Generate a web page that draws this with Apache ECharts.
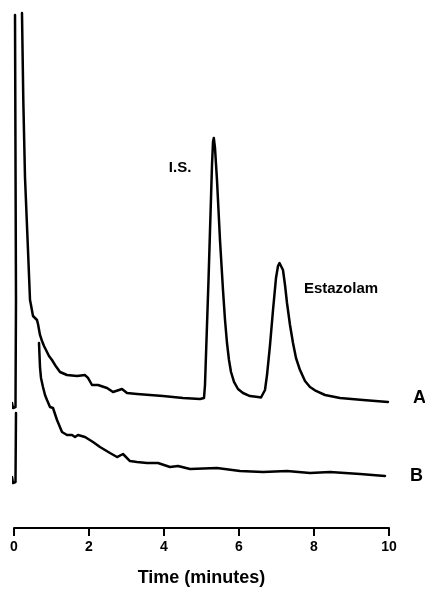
<!DOCTYPE html>
<html>
<head>
<meta charset="utf-8">
<script src="https://cdn.jsdelivr.net/npm/echarts@6/dist/echarts.min.js"></script>
<style>
html,body{margin:0;padding:0;background:#fff;}
#chart{width:425px;height:593px;}
</style>
</head>
<body>
<div id="chart"></div>
<script>
// Time axis ticks (minutes)
var xTicks = [0, 2, 4, 6, 8, 10];
var xTitle = 'Time (minutes)';

// Chromatogram A: [time (min), detector response (relative units)]; null = pen off-scale
var traceA = [
  [-0.053, 24.04], [-0.027, 23.08], [0.040, 23.27], [0.053, 43.85], [0.027, 98.65],
  null,
  [0.213, 99.04], [0.248, 82.31], [0.293, 67.50], [0.373, 53.46], [0.427, 43.85],
  [0.453, 42.88], [0.507, 40.77], [0.613, 40.00], [0.640, 39.23], [0.693, 37.12],
  [0.747, 35.96], [0.800, 35.00], [0.880, 33.85], [0.933, 33.08], [1.013, 32.31],
  [1.093, 31.35], [1.227, 30.00], [1.413, 29.42], [1.680, 29.23], [1.893, 29.42],
  [1.973, 28.85], [2.080, 27.50], [2.240, 27.50], [2.480, 26.92], [2.640, 26.15],
  [2.880, 26.73], [3.013, 25.96], [3.280, 25.77], [3.973, 25.38], [4.507, 25.00],
  [4.960, 24.81], [5.067, 25.00], [5.093, 27.50], [5.187, 47.69], [5.280, 69.81],
  [5.307, 74.23], [5.328, 75.00], [5.360, 73.08], [5.413, 66.92], [5.493, 55.38],
  [5.573, 45.77], [5.627, 40.00], [5.680, 35.58], [5.733, 32.31], [5.787, 30.00],
  [5.867, 28.08], [5.973, 26.73], [6.107, 25.96], [6.293, 25.38], [6.507, 25.19],
  [6.587, 25.10], [6.640, 25.38], [6.693, 26.54], [6.747, 29.42], [6.827, 35.19],
  [6.907, 41.92], [6.987, 48.08], [7.040, 50.38], [7.080, 50.96], [7.120, 50.77],
  [7.173, 49.62], [7.227, 46.73], [7.280, 43.27], [7.360, 39.04], [7.440, 35.58],
  [7.520, 32.69], [7.627, 30.38], [7.760, 28.27], [7.893, 27.12], [8.053, 26.35],
  [8.293, 25.58], [8.693, 25.00], [9.307, 24.62], [9.973, 24.23]
];

// Chromatogram B (blank)
var traceB = [
  [-0.053, 9.81], [-0.027, 8.65], [0.040, 8.85], [0.053, 22.12],
  null,
  [0.667, 35.58], [0.693, 30.96], [0.720, 28.85], [0.773, 27.12], [0.827, 25.58],
  [0.880, 24.62], [0.960, 23.27], [1.040, 23.08], [1.147, 20.77], [1.280, 18.46],
  [1.413, 17.88], [1.547, 17.88], [1.627, 17.50], [1.707, 17.88], [1.893, 17.50],
  [2.107, 16.54], [2.293, 15.58], [2.560, 14.42], [2.747, 13.65], [2.907, 14.23],
  [3.093, 12.88], [3.280, 12.69], [3.547, 12.50], [3.840, 12.50], [4.160, 11.73],
  [4.373, 11.92], [4.693, 11.35], [5.413, 11.54], [6.027, 10.96], [6.640, 10.77],
  [7.280, 10.96], [7.893, 10.58], [8.427, 10.77], [9.227, 10.38], [9.893, 10.00]
];

// Peak annotations: [text, time, response] (label centre)
var peakLabels = [
  ['I.S.', 4.43, 69.2],
  ['Estazolam', 8.72, 46.0]
];
var traceNames = ['A', 'B'];

var FONT = '"Liberation Sans", Arial, sans-serif';
var chart = echarts.init(document.getElementById('chart'), null, {renderer: 'canvas'});

chart.setOption({
  animation: false,
  backgroundColor: '#ffffff',
  grid: {left: 14, right: 36, top: 8, bottom: 65, containLabel: false},
  xAxis: {
    type: 'value', min: xTicks[0], max: xTicks[xTicks.length - 1], interval: 2,
    name: xTitle, nameLocation: 'middle', nameGap: 41,
    nameTextStyle: {fontFamily: FONT, fontWeight: 'bold', fontSize: 18, color: '#000'},
    axisLine: {show: true, onZero: false, lineStyle: {color: '#000', width: 2}},
    axisTick: {show: true, inside: false, length: 8, lineStyle: {color: '#000', width: 2}},
    axisLabel: {margin: 12, fontFamily: FONT, fontWeight: 'bold', fontSize: 14, color: '#000'},
    splitLine: {show: false}
  },
  yAxis: {
    type: 'value', min: 0, max: 100, show: false, splitLine: {show: false}
  },
  series: [
    {
      name: traceNames[0], type: 'line', data: traceA, clip: false,
      showSymbol: false, symbol: 'none', connectNulls: false,
      lineStyle: {color: '#000', width: 2.5, join: 'round', cap: 'round'},
      endLabel: {show: true, formatter: traceNames[0], distance: 25, offset: [0, -4],
        fontFamily: FONT, fontWeight: 'bold', fontSize: 18, color: '#000'},
      markPoint: {
        symbol: 'circle', symbolSize: 0, silent: true,
        label: {show: true, position: 'inside', fontFamily: FONT, fontWeight: 'bold', fontSize: 15, color: '#000',
          formatter: function (p) { return p.name; }},
        data: peakLabels.map(function (d) { return {name: d[0], coord: [d[1], d[2]]}; })
      }
    },
    {
      name: traceNames[1], type: 'line', data: traceB, clip: false,
      showSymbol: false, symbol: 'none', connectNulls: false,
      lineStyle: {color: '#000', width: 2.5, join: 'round', cap: 'round'},
      endLabel: {show: true, formatter: traceNames[1], distance: 25, offset: [0, 0],
        fontFamily: FONT, fontWeight: 'bold', fontSize: 18, color: '#000'}
    }
  ]
});
</script>
</body>
</html>
